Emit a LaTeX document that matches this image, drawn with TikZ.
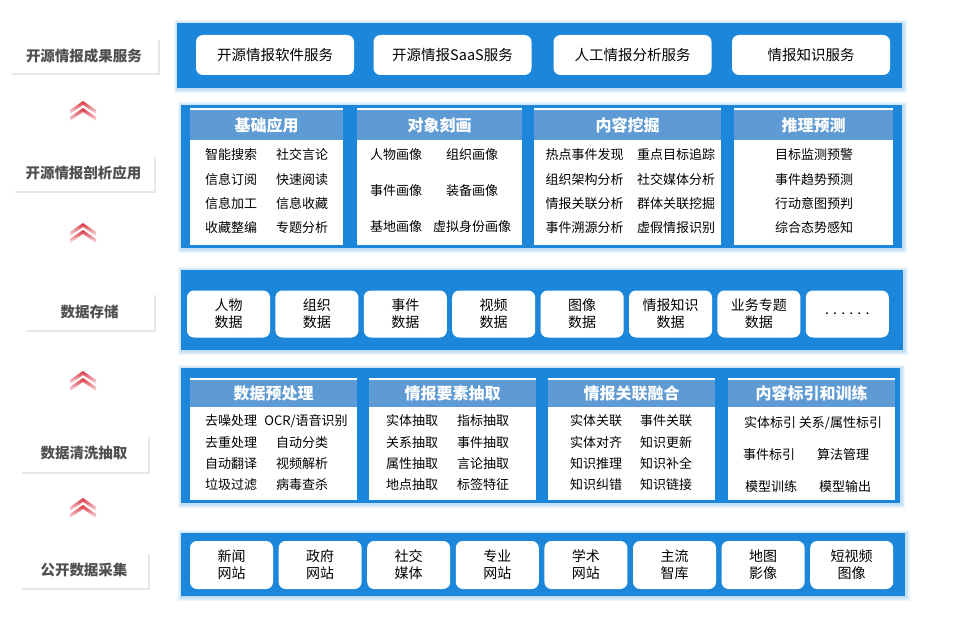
\documentclass[tikz,border=0pt]{standalone}
\usepackage{fontspec}
\setmainfont{Noto Sans CJK SC}
\usetikzlibrary{shadows}
\definecolor{bandblue}{HTML}{1C87DA}
\definecolor{headblue}{HTML}{5E9BD5}
\definecolor{labelgray}{HTML}{505050}
\definecolor{chevred}{HTML}{D8303C}

\begin{document}
\begin{tikzpicture}[x=1pt,y=-1pt,
   layer label/.style={fill=white,text=labelgray,inner sep=0pt,
      drop shadow={shadow xshift=1.5pt,shadow yshift=-2pt,opacity=0.18},
      font=\fontsize{14.5}{16}\selectfont\bfseries},
   service box/.style={fill=white,rounded corners=7pt,minimum width=158pt,
      minimum height=40pt,font=\fontsize{14.5}{16}\selectfont},
   data box/.style={fill=white,rounded corners=7pt,minimum width=83pt,
      minimum height=47pt,align=center,inner sep=0pt,
      font=\fontsize{14}{17}\selectfont},
   panel/.style={fill=white,anchor=north west,inner sep=0pt},
   panel head/.style={fill=headblue,text=white,anchor=north west,inner sep=0pt,
      font=\fontsize{16}{18}\selectfont\bfseries},
   item/.style={inner sep=0pt,font=\fontsize{13}{15}\selectfont}]
\useasboundingbox (0,0) rectangle (959,618);

% blue bands with a soft glow
\foreach \bx/\by/\ex/\ey in {177/23/902/88, 181/105/902/248, 181/270/903/350,
                             181/368/900/503, 181/533/905/596} {
  \foreach \g in {1,...,4}
    \fill[bandblue,opacity=0.08] (\bx-\g+1,\by-\g+1) rectangle (\ex+\g+1,\ey+\g+1);
  \fill[bandblue] (\bx,\by) rectangle (\ex,\ey);
}

% layer labels
\node[layer label,minimum width=148pt,minimum height=35pt] (lab1) at (84,55.5) {开源情报成果服务};
\node[layer label,minimum width=141pt,minimum height=36pt] (lab2) at (83.5,173) {开源情报剖析应用};
\node[layer label,minimum width=129pt,minimum height=37pt] (lab3) at (89.5,311.5) {数据存储};
\node[layer label,minimum width=128pt,minimum height=37pt] (lab4) at (84,453.5) {数据清洗抽取};
\node[layer label,minimum width=128pt,minimum height=36pt] (lab5) at (84,570) {公开数据采集};

% red chevrons between the layers
\foreach \ay in {101,223,371,498} {
  \foreach \dy in {0,7}
    \shade[top color=chevred,bottom color=chevred!8]
      (70,\ay+\dy+9) -- (83,\ay+\dy) -- (96,\ay+\dy+9) -- (96,\ay+\dy+13)
      -- (83,\ay+\dy+4) -- (70,\ay+\dy+13) -- cycle;
}

% results layer
\node[service box] (srv1) at (275,55) {开源情报软件服务};
\node[service box] (srv2) at (452.5,55) {开源情报SaaS服务};
\node[service box] (srv3) at (632.5,55) {人工情报分析服务};
\node[service box] (srv4) at (811,55) {情报知识服务};

% analysis layer
\foreach \n/\x/\w/\title in {1/190/153/基础应用, 2/357/165/对象刻画,
                             3/534/187/内容挖掘, 4/734/159/推理预测} {
  \node[panel,minimum width=\w pt,minimum height=137pt] (pa\n) at (\x,108) {};
  \node[panel head,minimum width=\w pt,minimum height=30pt] (ha\n)
    at ([yshift=-2pt]pa\n.north west) {\title};
}
\foreach \a/\b [count=\r] in {智能搜索/社交言论, 信息订阅/快速阅读,
                              信息加工/信息收藏, 收藏整编/专题分析} {
  \node[item] (ja\r) at (231,{155+24.3*(\r-1)}) {\a};
  \node[item] (jb\r) at (302,{155+24.3*(\r-1)}) {\b};
}
\foreach \a/\b [count=\r] in {人物画像/组织画像, 事件画像/装备画像,
                              基地画像/虚拟身份画像} {
  \node[item] (ka\r) at (396,{155+36*(\r-1)}) {\a};
  \node[item] (kb\r) at (472,{155+36*(\r-1)}) {\b};
}
\foreach \a/\b [count=\r] in {热点事件发现/重点目标追踪, 组织架构分析/社交媒体分析,
                              情报关联分析/群体关联挖掘, 事件溯源分析/虚假情报识别} {
  \node[item] (ma\r) at (584.5,{155+24.3*(\r-1)}) {\a};
  \node[item] (mb\r) at (676,{155+24.3*(\r-1)}) {\b};
}
\foreach \a [count=\r] in {目标监测预警, 事件趋势预测, 行动意图预判, 综合态势感知}
  \node[item] (ta\r) at (814,{155+24.3*(\r-1)}) {\a};

% storage layer
\foreach \t [count=\i] in {人物\\数据, 组织\\数据, 事件\\数据, 视频\\数据, 图像\\数据,
                           情报知识\\数据, 业务专题\\数据, . . . . . .}
  \node[data box] (st\i) at ({228.5+88.4*(\i-1)},314) {\t};

% cleaning and extraction layer
\foreach \n/\x/\title in {1/190/数据预处理, 2/369/情报要素抽取,
                          3/548/情报关联融合, 4/728/内容标引和训练} {
  \node[panel,minimum width=167pt,minimum height=122pt] (pb\n) at (\x,378) {};
  \node[panel head,minimum width=167pt,minimum height=27pt] (hb\n)
    at ([yshift=-2pt]pb\n.north west) {\title};
}
\node[item] (ca1) at (231,421) {去噪处理};
\node[item] (cb1) at (306,421) {OCR/语音识别};
\foreach \a/\b [count=\r from 2] in {去重处理/自动分类, 自动翻译/视频解析, 垃圾过滤/病毒查杀} {
  \node[item] (ca\r) at (231,{421+21.3*(\r-1)}) {\a};
  \node[item] (cb\r) at (302,{421+21.3*(\r-1)}) {\b};
}
\foreach \a/\b [count=\r] in {实体抽取/指标抽取, 关系抽取/事件抽取,
                              属性抽取/言论抽取, 地点抽取/标签特征} {
  \node[item] (ea\r) at (412,{421+21.3*(\r-1)}) {\a};
  \node[item] (eb\r) at (483,{421+21.3*(\r-1)}) {\b};
}
\foreach \a/\b [count=\r] in {实体关联/事件关联, 实体对齐/知识更新,
                              知识推理/知识补全, 知识纠错/知识链接} {
  \node[item] (fa\r) at (596,{421+21.3*(\r-1)}) {\a};
  \node[item] (fb\r) at (666,{421+21.3*(\r-1)}) {\b};
}
\node[item] (ia1) at (813,423) {实体标引 关系/属性标引};
\node[item] (ia2) at (769,455) {事件标引};
\node[item] (ib2) at (843,455) {算法管理};
\node[item] (ia3) at (771,487) {模型训练};
\node[item] (ib3) at (845,487) {模型输出};

% collection layer
\foreach \t [count=\i] in {新闻\\网站, 政府\\网站, 社交\\媒体, 专业\\网站, 学术\\网站,
                           主流\\智库, 地图\\影像, 短视频\\图像}
  \node[data box,minimum height=48pt] (co\i) at ({231.5+88.6*(\i-1)},565) {\t};
\end{tikzpicture}
\end{document}
